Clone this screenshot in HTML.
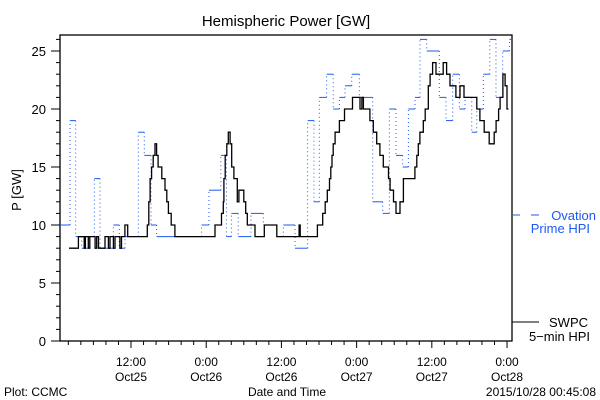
<!DOCTYPE html>
<html><head><meta charset="utf-8"><style>
body{margin:0;background:#fff}
svg{display:block;font-family:"Liberation Sans",sans-serif}
</style></head><body>
<svg id="chart" width="600" height="400" viewBox="0 0 600 400" xmlns="http://www.w3.org/2000/svg">
<rect x="0" y="0" width="600" height="400" fill="#fff"/>
<text x="286" y="26" font-size="15" text-anchor="middle">Hemispheric Power [GW]</text>
<text x="0" y="0" font-size="13" text-anchor="middle" transform="translate(21,190) rotate(-90)">P [GW]</text>
<g id="axes"></g>
<g id="series"></g>
<text x="287" y="396" font-size="12" text-anchor="middle">Date and Time</text>
<text x="4" y="396" font-size="12">Plot: CCMC</text>
<text x="596" y="396" font-size="12" text-anchor="end">2015/10/28 00:45:08</text>
<g>
<line x1="513" y1="215" x2="520" y2="215" stroke="#1e5af0" stroke-width="1"/>
<line x1="531" y1="215" x2="539" y2="215" stroke="#1e5af0" stroke-width="1"/>
<text x="596" y="220" font-size="13" fill="#1e5af0" text-anchor="end">Ovation</text>
<text x="590" y="233" font-size="13" fill="#1e5af0" text-anchor="end">Prime HPI</text>
</g>
<g>
<line x1="512" y1="322" x2="539" y2="322" stroke="#000" stroke-width="1"/>
<text x="588" y="327" font-size="13" text-anchor="end">SWPC</text>
<text x="590" y="341" font-size="13" text-anchor="end">5−min HPI</text>
</g>
</svg>
<script>
// hours since Oct25 00:00 and values in GW
const swpcTimes=[2.1,3.6,4.53,4.73,5.18,5.43,6.27,6.52,6.81,7.85,8.4,8.65,9.19,9.44,10.23,10.48,11.03,11.47,14.6,14.84,15.04,15.29,15.54,15.83,16.08,16.33,16.92,17.42,17.71,17.96,18.41,19.0,25.4,26.44,26.73,26.83,27.03,27.28,27.53,27.82,28.07,28.42,28.96,29.21,30.0,30.3,30.55,31.79,33.27,35.26,38.82,39.0,41.75,42.59,42.99,43.33,43.68,43.88,44.08,44.27,44.57,45.26,46.06,47.35,48.54,48.85,49.08,50.12,50.66,51.21,51.71,52.25,53.09,53.34,53.89,54.28,54.93,55.47,57.3,57.6,57.85,58.1,58.64,58.94,59.44,59.73,60.13,60.67,61.81,62.36,62.9,63.85,64.49,65.13,67.17,67.67,68.36,69.16,69.95,70.25,70.65,70.9,71.34,71.69,71.99,72.24];
const swpcValues=[8,9,8,9,8,9,8,9,8,9,8,9,8,9,8,9,10,9,10,12,14,15,16,17,16,15,14,13,12,11,10,9,10,11,12,14,16,17,18,17,15,14,12,13,12,11,10,9,10,9,10,9,10,11,12,13,14,15,16,17,18,19,20,21,20,21,20,19,18,17,16,15,14,13,12,11,12,14,15,16,17,18,19,20,22,23,24,23,24,23,22,21,22,21,20,19,18,17,18,19,20,21,23,22,20,20];
const ovationTimes=[0.67,2.27,3.17,4.13,5.19,6.15,7.05,9.18,10.13,11.04,13.16,14.12,15.19,16.09,23.26,24.44,26.34,27.23,28.02,29.11,31.15,33.12,35.26,36.31,38.17,40.19,41.2,42.05,43.22,44.27,45.26,46.15,47.22,48.44,50.57,52.16,53.22,54.28,55.35,56.26,57.32,58.12,59.19,61.2,62.26,63.33,64.4,65.3,66.37,67.17,68.22,69.25,70.24,71.31,72.38,72.8];
const ovationValues=[10,19,9,8,9,14,8,10,8,9,18,16,10,9,10,13,16,9,11,9,11,10,9,10,8,19,12,21,23,20,21,22,23,21,12,11,20,16,15,20,21,26,25,21,19,23,20,21,18,20,23,26,21,25,26,26];
const yTicks=[0,5,10,15,20,25];
const xTickHours=[12,24,36,48,60,72];
const xTickTop=["12:00","0:00","12:00","0:00","12:00","0:00"];
const xTickBottom=["Oct25","Oct26","Oct26","Oct27","Oct27","Oct28"];

const NS="http://www.w3.org/2000/svg";
const L=60,R=512,T=35,B=341;
function xs(h){return 55.8+h*6.267;}
function ys(v){return 341-v*11.6;}
function mk(tag,attrs,parent){const e=document.createElementNS(NS,tag);for(const k in attrs)e.setAttribute(k,attrs[k]);parent.appendChild(e);return e;}
const axes=document.getElementById('axes');
const series=document.getElementById('series');
const frame=mk('rect',{x:L,y:T,width:R-L,height:B-T,fill:'none',stroke:'#000','stroke-width':1.3},axes);


for(let v=0;v<=26;v++){
  const t=mk('line',{x1:L-(v%5===0?9:4),x2:L,y1:ys(v),y2:ys(v),stroke:'#000','stroke-width':1},axes);
  
  
}
yTicks.forEach(v=>{
  const t=mk('text',{x:46,y:ys(v)+5,'font-size':13,'text-anchor':'end'},axes);
  t.textContent=v;
  
  
});
for(let h=2;h<=72;h+=2){
  const t=mk('line',{x1:xs(h),x2:xs(h),y1:B,y2:B+(h%12===0?7:4),stroke:'#000','stroke-width':1},axes);
  
  
}
xTickHours.forEach((h,i)=>{
  const a=mk('text',{x:xs(h),y:366,'font-size':12,'text-anchor':'middle'},axes);
  a.textContent=xTickTop[i];
  
  
  const b=mk('text',{x:xs(h),y:381,'font-size':12,'text-anchor':'middle'},axes);
  b.textContent=xTickBottom[i];
  
  
});
// Ovation: solid horizontal steps, dotted verticals
const blue='#1e5af0';
for(let i=0;i<ovationValues.length-1;i++){
  const x1=xs(ovationTimes[i]),x2=xs(ovationTimes[i+1]),y=ys(ovationValues[i]);
  const h=mk('line',{x1:x1,x2:x2,y1:y,y2:y,stroke:blue,'stroke-width':1},series);
  
  
  if(i<ovationValues.length-2){
    const v=mk('line',{x1:x2,x2:x2,y1:y,y2:ys(ovationValues[i+1]),stroke:blue,'stroke-width':1,'stroke-dasharray':'1,3'},series);
    
    
  }
}
// SWPC: solid step line
let d='';
for(let i=0;i<swpcValues.length-1;i++){
  const x1=xs(swpcTimes[i]),x2=xs(swpcTimes[i+1]),y=ys(swpcValues[i]);
  d+=(i===0?'M':'L')+x1.toFixed(1)+','+y.toFixed(1)+'L'+x2.toFixed(1)+','+y.toFixed(1);
}
const p=mk('path',{d:d,fill:'none',stroke:'#000','stroke-width':1.3},series);


</script>
</body></html>
